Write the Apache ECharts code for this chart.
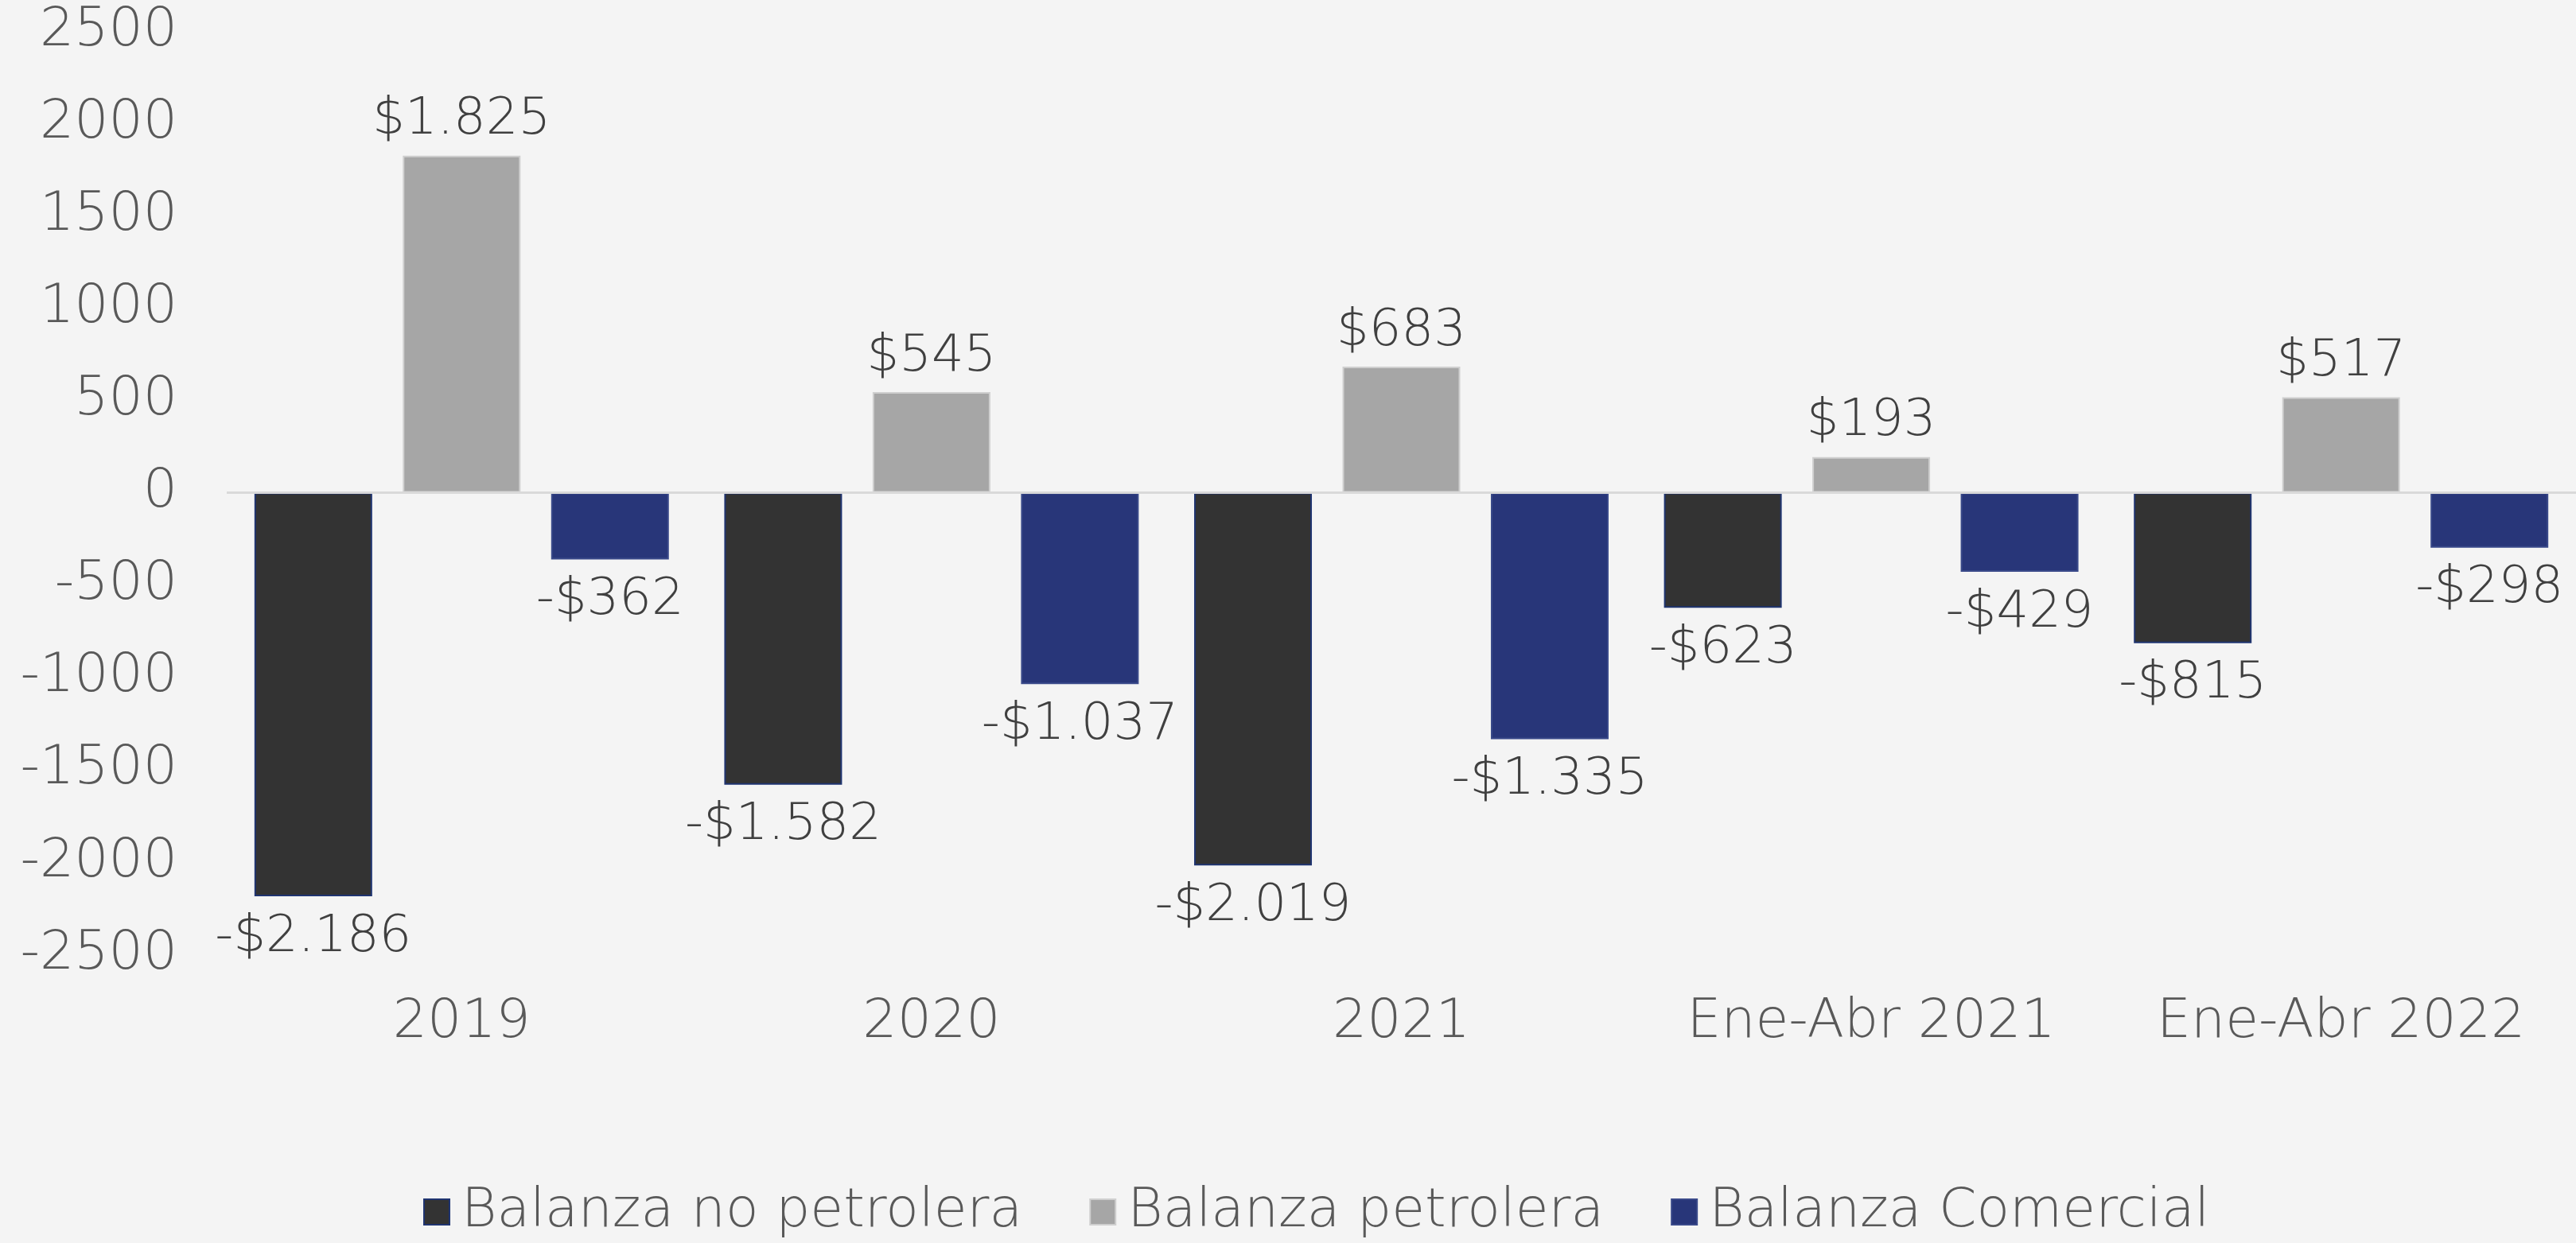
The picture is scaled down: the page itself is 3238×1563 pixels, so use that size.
<!DOCTYPE html>
<html>
<head>
<meta charset="utf-8">
<script src="https://cdn.jsdelivr.net/npm/echarts@6/dist/echarts.min.js"></script>
<style>
    html, body { margin: 0; padding: 0; background: #f4f4f4; }
    #balanza { width: 3238px; height: 1563px; }
</style>
</head>
<body>
<div id="balanza"></div>
<script>
// Données (millions de dólares)
const categorias = ['2019', '2020', '2021', 'Ene-Abr 2021', 'Ene-Abr 2022'];
const noPetrolera = [-2186, -1582, -2019, -623, -815];
const petrolera = [1825, 545, 683, 193, 517];
const comercial = [-362, -1037, -1335, -429, -298];
const nombres = ['Balanza no petrolera', 'Balanza petrolera', 'Balanza Comercial'];

const FONT = '"DejaVu Sans", Lato, sans-serif';
const PESO = 200;

/**
 * Formate une valeur : -$2.186
 * @param {number} v - valeur
 */
function formatMonto(v) {
    const abs = Math.abs(v).toString().replace(/\B(?=(\d{3})+(?!\d))/g, '.');
    return (v < 0 ? '-' : '') + '$' + abs;
}

// Étiquette au-dessus pour les positifs, en dessous pour les négatifs
function toData(values) {
    return values.map(v => ({
        value: v,
        label: v < 0 ? { position: 'bottom', distance: 20 } : { position: 'top', distance: 12 }
    }));
}

function serie(name, values, color, border) {
    return {
        name: name,
        type: 'bar',
        barWidth: 148,
        barGap: '26%',
        data: toData(values),
        itemStyle: {
            color: color,
            borderColor: border,
            borderWidth: 2
        },
        label: {
            show: true,
            color: '#404040',
            fontFamily: FONT,
            fontWeight: PESO,
            fontSize: 64,
            formatter: p => formatMonto(p.value)
        }
    };
}

const chart = echarts.init(document.getElementById('balanza'));

const series = [
    serie(nombres[0], noPetrolera, '#333333', '#1f3470'),
    serie(nombres[1], petrolera, '#a6a6a6', '#cfcfcf'),
    serie(nombres[2], comercial, '#283679', '#3a4a8a')
];

// Ligne du zéro (l'axe x garde ses libellés en bas)
series[0].markLine = {
    silent: true,
    symbol: 'none',
    label: { show: false },
    lineStyle: { color: '#d9d9d9', width: 3, type: 'solid' },
    data: [{ yAxis: 0 }]
};

chart.setOption({
    backgroundColor: '#f4f4f4',
    animation: false,
    grid: {
        left: 285,
        right: 0,
        top: 39,
        bottom: 363
    },
    legend: {
        bottom: 0,
        left: 527,
        itemWidth: 32,
        itemHeight: 32,
        itemGap: 84,
        icon: 'rect',
        textStyle: {
            color: '#595959',
            fontFamily: FONT,
            fontWeight: PESO,
            fontSize: 68,
            padding: [0, 0, 0, 10]
        },
        data: nombres
    },
    xAxis: {
        type: 'category',
        data: categorias,
        axisLine: { show: false, onZero: false },
        axisTick: { show: false },
        axisLabel: {
            interval: 0,
            margin: 52,
            color: '#595959',
            fontFamily: FONT,
            fontWeight: PESO,
            fontSize: 68
        }
    },
    yAxis: {
        type: 'value',
        min: -2500,
        max: 2500,
        interval: 500,
        splitLine: { show: false },
        axisLine: { show: false },
        axisTick: { show: false },
        axisLabel: {
            margin: 62,
            padding: [24, 0, 0, 0],
            color: '#595959',
            fontFamily: FONT,
            fontWeight: PESO,
            fontSize: 68,
            formatter: v => String(v)
        }
    },
    series: series
});
</script>
</body>
</html>
